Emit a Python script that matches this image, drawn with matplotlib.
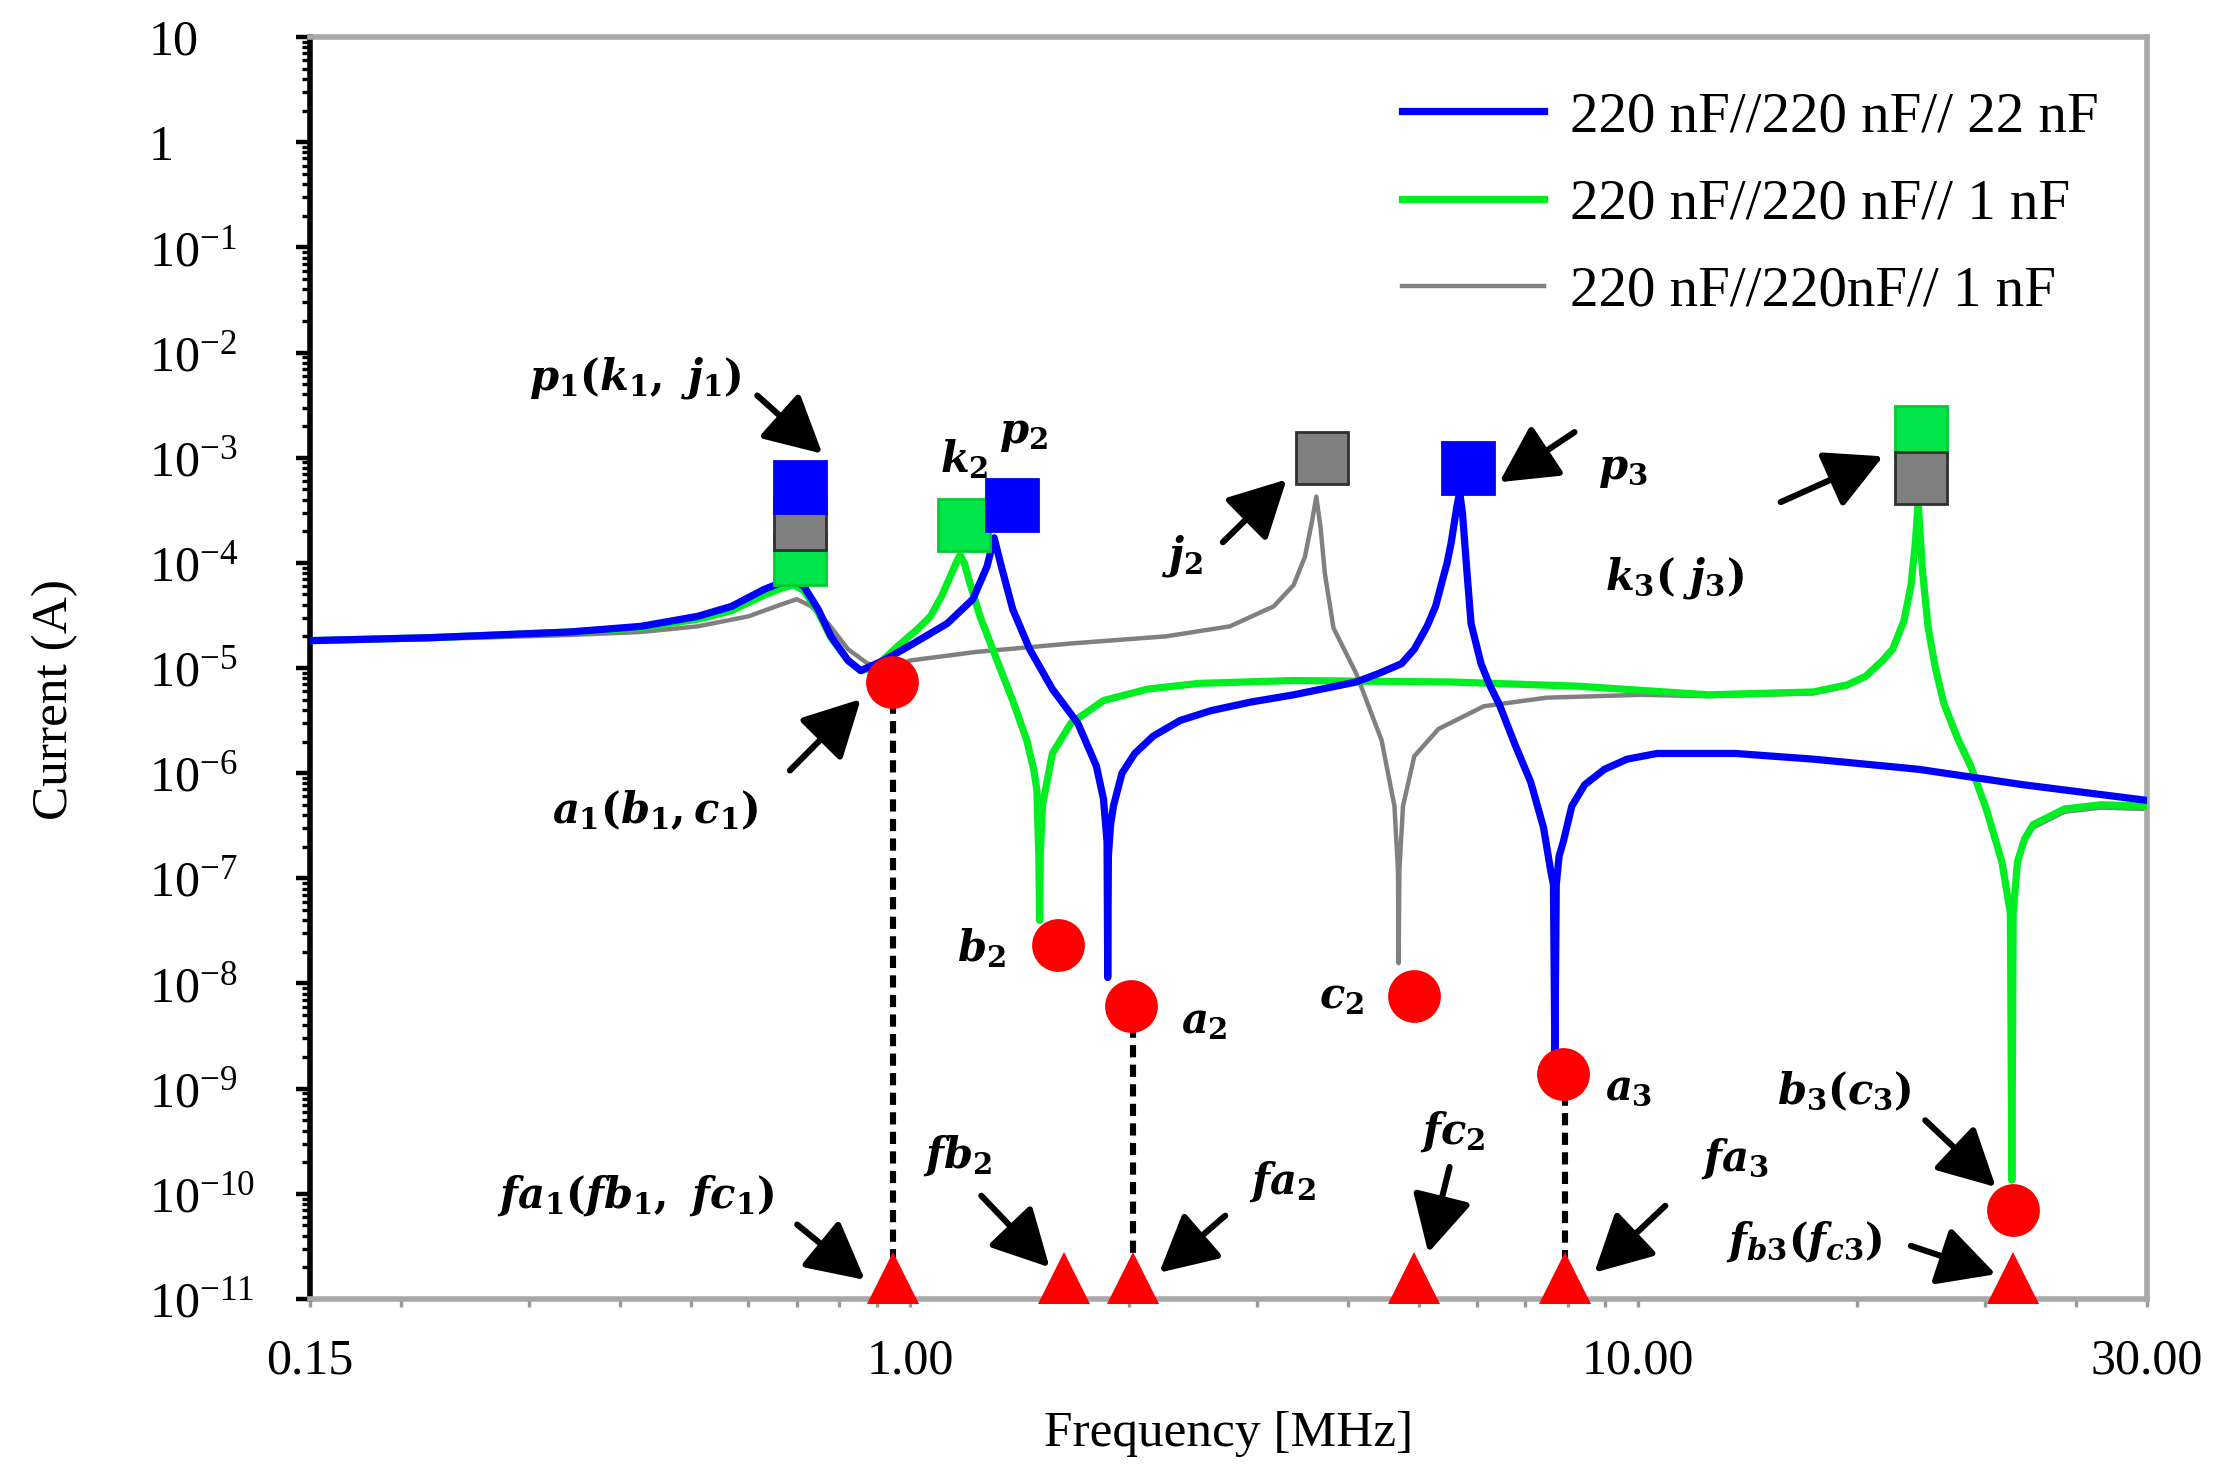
import matplotlib
matplotlib.use("Agg")
import matplotlib.pyplot as plt
from matplotlib.ticker import LogLocator, NullFormatter

plt.rcParams['font.family'] = ['Liberation Serif', 'DejaVu Serif']
plt.rcParams['mathtext.fontset'] = 'custom'
plt.rcParams['mathtext.it'] = 'DejaVu Serif:italic:bold'
plt.rcParams['mathtext.rm'] = 'DejaVu Serif:bold'
plt.rcParams['mathtext.bf'] = 'DejaVu Serif:bold'

# --- data: (frequency MHz, current A) ---
series_labels = ["220 nF//220 nF// 22 nF", "220 nF//220 nF// 1 nF", "220 nF//220nF// 1 nF"]

blue_points = [
    (0.150, 1.82e-5), (0.218, 1.94e-5), (0.341, 2.20e-5), (0.427, 2.49e-5), (0.511, 3.10e-5),
    (0.569, 3.86e-5), (0.631, 5.61e-5), (0.669, 6.56e-5), (0.693, 6.98e-5), (0.715, 5.97e-5),
    (0.748, 3.62e-5), (0.779, 2.00e-5), (0.822, 1.18e-5), (0.856, 9.45e-6), (0.920, 1.18e-5),
    (1.011, 1.71e-5), (1.125, 2.65e-5), (1.220, 4.51e-5), (1.276, 9.25e-5), (1.305, 1.73e-4),
    (1.335, 9.25e-5), (1.384, 3.62e-5), (1.460, 1.51e-5), (1.569, 6.30e-6), (1.701, 2.97e-6),
    (1.803, 1.17e-6), (1.844, 5.68e-7), (1.865, 2.23e-7), (1.869, 1.14e-8), (1.873, 1.63e-7),
    (1.886, 3.24e-7), (1.903, 4.86e-7), (1.955, 9.97e-7), (2.036, 1.54e-6), (2.158, 2.25e-6),
    (2.350, 3.17e-6), (2.594, 3.94e-6), (2.941, 4.75e-6), (3.365, 5.56e-6), (4.101, 7.36e-6),
    (4.405, 8.88e-6), (4.733, 1.10e-5), (4.928, 1.51e-5), (5.131, 2.49e-5), (5.271, 3.86e-5),
    (5.391, 6.98e-5), (5.464, 9.84e-5), (5.539, 1.57e-4), (5.638, 3.44e-4), (5.689, 4.69e-4),
    (5.740, 2.94e-4), (5.819, 8.42e-5), (5.897, 2.65e-5), (6.086, 1.10e-5), (6.252, 6.92e-6),
    (6.451, 4.47e-6), (6.778, 1.86e-6), (7.120, 8.26e-7), (7.416, 3.04e-7), (7.584, 1.19e-7),
    (7.652, 8.72e-8), (7.687, 2.05e-9), (7.721, 8.72e-8), (7.791, 1.63e-7), (7.895, 2.23e-7),
    (8.110, 4.86e-7), (8.446, 7.76e-7), (8.995, 1.09e-6), (9.663, 1.36e-6), (10.62, 1.54e-6),
    (13.59, 1.54e-6), (17.40, 1.36e-6), (24.25, 1.09e-6), (33.81, 7.76e-7), (50.0, 5.51e-7),
]

green_points = [
    (0.150, 1.82e-5), (0.218, 1.94e-5), (0.341, 2.20e-5), (0.427, 2.41e-5), (0.511, 2.91e-5),
    (0.569, 3.51e-5), (0.631, 4.95e-5), (0.669, 5.79e-5), (0.693, 6.16e-5), (0.715, 5.44e-5),
    (0.748, 3.40e-5), (0.779, 1.94e-5), (0.822, 1.18e-5), (0.856, 9.45e-6), (0.895, 1.01e-5),
    (0.962, 1.61e-5), (1.024, 2.34e-5), (1.067, 3.10e-5), (1.105, 4.80e-5), (1.136, 7.43e-5),
    (1.156, 9.84e-5), (1.172, 1.19e-4), (1.188, 9.84e-5), (1.209, 6.36e-5), (1.248, 3.10e-5),
    (1.317, 1.18e-5), (1.384, 4.90e-6), (1.447, 2.05e-6), (1.480, 1.06e-6), (1.494, 6.85e-7),
    (1.503, 1.63e-7), (1.507, 3.99e-8), (1.510, 1.63e-7), (1.520, 4.86e-7), (1.569, 1.54e-6),
    (1.663, 2.97e-6), (1.844, 4.90e-6), (2.120, 6.30e-6), (2.492, 7.14e-6), (3.365, 7.60e-6),
    (5.539, 7.36e-6), (8.295, 6.71e-6), (12.49, 5.56e-6), (17.40, 5.92e-6), (19.38, 6.92e-6),
    (20.54, 8.34e-6), (21.67, 1.18e-5), (22.37, 1.51e-5), (23.19, 2.82e-5), (23.71, 6.16e-5),
    (24.04, 1.57e-4), (24.25, 3.77e-4), (24.58, 8.42e-5), (25.03, 2.41e-5), (25.60, 1.01e-5),
    (26.30, 4.61e-6), (27.50, 2.11e-6), (28.64, 1.17e-6), (30.08, 4.56e-7), (31.60, 1.44e-7),
    (32.46, 4.67e-8), (32.61, 1.35e-10), (32.75, 4.67e-8), (33.20, 1.44e-7), (33.95, 2.37e-7),
    (34.88, 3.24e-7), (38.51, 4.56e-7), (43.26, 5.01e-7), (50.0, 4.86e-7),
]

gray_points = [
    (0.150, 1.82e-5), (0.218, 1.88e-5), (0.341, 2.06e-5), (0.427, 2.20e-5), (0.511, 2.49e-5),
    (0.600, 3.10e-5), (0.663, 3.98e-5), (0.699, 4.51e-5), (0.732, 3.86e-5), (0.772, 2.65e-5),
    (0.822, 1.51e-5), (0.875, 1.10e-5), (0.936, 1.01e-5), (1.002, 1.18e-5), (1.231, 1.42e-5),
    (1.663, 1.71e-5), (2.247, 2.00e-5), (2.750, 2.49e-5), (3.160, 3.86e-5), (3.365, 6.16e-5),
    (3.488, 1.15e-4), (3.567, 2.51e-4), (3.615, 4.27e-4), (3.664, 2.15e-4), (3.714, 7.91e-5),
    (3.816, 2.41e-5), (4.101, 8.88e-6), (4.444, 2.05e-6), (4.628, 4.86e-7), (4.680, 1.19e-7),
    (4.690, 1.56e-8), (4.701, 1.19e-7), (4.755, 4.86e-7), (4.928, 1.45e-6), (5.319, 2.63e-6),
    (6.141, 4.33e-6), (7.482, 5.22e-6), (10.11, 5.56e-6), (12.49, 5.39e-6), (17.40, 5.74e-6),
    (19.38, 6.71e-6), (20.54, 8.09e-6), (21.67, 1.14e-5), (22.37, 1.46e-5), (23.19, 2.65e-5),
    (23.71, 5.61e-5), (24.04, 1.35e-4), (24.25, 2.94e-4), (24.58, 7.91e-5), (25.03, 2.27e-5),
    (25.60, 9.45e-6), (26.30, 4.33e-6), (27.50, 1.98e-6), (28.64, 1.09e-6), (30.08, 4.29e-7),
    (31.60, 1.35e-7), (32.46, 4.4e-8), (32.61, 1.35e-10), (32.75, 4.4e-8), (33.20, 1.35e-7),
    (33.95, 2.23e-7), (34.88, 3.04e-7), (38.51, 4.29e-7), (43.26, 4.71e-7), (50.0, 4.56e-7),
]

# resonance (peak) markers per series
peak_f_blue = [0.706, 1.383, 5.844]
peak_i_blue = [5.32e-4, 3.55e-4, 7.98e-4]
peak_f_green = [0.706, 1.188, 24.48]
peak_i_green = [1.08e-4, 2.29e-4, 1.75e-3]
peak_f_gray = [0.706, 3.681, 24.48]
peak_i_gray = [2.36e-4, 9.93e-4, 6.41e-4]

# anti-resonance (notch) points a1, b2, a2, c2, a3, b3 and their frequencies
notch_f = [0.945, 1.597, 2.009, 4.925, 7.890, 32.74]
notch_i = [7.36e-6, 2.34e-8, 6.12e-9, 7.62e-9, 1.37e-9, 7.03e-11]
notch_freq_marks = [0.949, 1.626, 2.026, 4.925, 7.925, 32.74]
floor_level = 1.6e-11
drop_lines = [0, 2, 4]   # a1, a2, a3 get a dashed drop line

x_ticks = [0.15, 1.0, 10.0, 50.0]
x_tick_labels = ["0.15", "1.00", "10.00", "30.00"]
y_ticks = [10.0 ** k for k in range(1, -12, -1)]
y_tick_labels = ["10", "1"] + [r"$\mathregular{10^{-%d}}$" % k for k in range(1, 12)]

# text, text position, arrow tail, arrow head (data coords)
notes = [
    (r"$p_1(k_1,\ j_1)$", (0.420, 5.7e-3), (0.617, 3.9e-3), (0.758, 1.09e-3)),
    (r"$k_2$", (1.188, 9.6e-4), None, None),
    (r"$p_2$", (1.432, 1.64e-3), None, None),
    (r"$j_2$", (2.37, 1.15e-4), (2.69, 1.57e-4), (3.29, 6.2e-4)),
    (r"$p_3$", (9.53, 7.5e-4), (8.18, 1.75e-3), (6.45, 5.85e-4)),
    (r"$k_3(\ j_3)$", (11.2, 7.2e-5), (15.7, 3.78e-4), (21.7, 1.03e-3)),
    (r"$a_1(b_1,c_1)$", (0.447, 4.4e-7), (0.684, 1.06e-6), (0.856, 5.06e-6)),
    (r"$b_2$", (1.253, 2.14e-8), None, None),
    (r"$a_2$", (2.54, 4.2e-9), None, None),
    (r"$c_2$", (3.92, 7.2e-9), None, None),
    (r"$a_3$", (9.70, 1.0e-9), None, None),
    (r"$b_3(c_3)$", (19.2, 9.4e-10), (24.8, 5.0e-10), (31.0, 1.16e-10)),
    (r"$fa_1(fb_1,\ fc_1)$", (0.420, 9.6e-11), (0.700, 5.1e-11), (0.867, 1.52e-11)),
    (r"$fb_2$", (1.161, 2.3e-10), (1.253, 9.6e-11), (1.555, 2.0e-11)),
    (r"$fa_2$", (3.25, 1.31e-10), (2.71, 6.2e-11), (2.20, 1.78e-11)),
    (r"$fc_2$", (5.57, 3.9e-10), (5.51, 1.8e-10), (5.15, 2.75e-11)),
    (r"$fa_3$", (13.6, 2.16e-10), (10.9, 7.7e-11), (8.71, 1.78e-11)),
    (r"$f_{b3}(f_{c3})$", (16.9, 3.5e-11), (23.7, 3.2e-11), (31.0, 1.72e-11)),
]

fig = plt.figure(figsize=(11.13, 7.405), dpi=200)
ax = fig.add_axes([0.1393, 0.1229, 0.8252, 0.8521])
ax.set_xscale('log')
ax.set_yscale('log')
ax.set_xlim(0.15, 50)
ax.set_ylim(1e-11, 10)

blue, green, gray = '#0000ff', '#00ee22', '#808080'
fb, ib = zip(*blue_points)
fg, ig = zip(*green_points)
fy, iy = zip(*gray_points)
l_gray, = ax.plot(fy, iy, color=gray, lw=1.6, zorder=2)
l_green, = ax.plot(fg, ig, color=green, lw=2.6, zorder=3)
l_blue, = ax.plot(fb, ib, color=blue, lw=2.6, zorder=4)

# dashed drop lines from notch to its frequency marker
for k in drop_lines:
    ax.plot([notch_freq_marks[k]] * 2, [notch_i[k], floor_level], color='k', lw=2.2,
            ls=(0, (2, 1.2)), zorder=5)

ax.plot(peak_f_green, peak_i_green, 's', ms=18.5, color='#00e64a', mec='#00cc33', mew=1, zorder=6)
ax.plot(peak_f_gray, peak_i_gray, 's', ms=18.5, color='#808080', mec='#303030', mew=1, zorder=6)
ax.plot(peak_f_blue, peak_i_blue, 's', ms=18.5, color=blue, mec=blue, mew=1, zorder=6)
ax.plot(notch_f, notch_i, 'o', ms=19, color='#ff0000', mew=0, zorder=7)
ax.plot(notch_freq_marks, [floor_level] * len(notch_freq_marks), '^', ms=18.5, color='#ff0000',
        mew=0, zorder=7, clip_on=False)

for txt, pos, tail, head in notes:
    ax.text(pos[0], pos[1], txt, fontsize=15, ha='center', va='center', zorder=8)
    if tail is not None:
        ax.annotate("", xy=head, xytext=tail, zorder=8,
                    arrowprops=dict(arrowstyle='-|>,head_length=0.8,head_width=0.42',
                                    mutation_scale=22, lw=2.2, color='k',
                                    shrinkA=0, shrinkB=0))

# axes styling
for side in ['top', 'right', 'bottom']:
    ax.spines[side].set_color('#a8a8a8')
    ax.spines[side].set_linewidth(2)
ax.spines['left'].set_color('k')
ax.spines['left'].set_linewidth(2)

ax.set_xticks(x_ticks)
ax.set_xticklabels(x_tick_labels)
ax.xaxis.set_minor_locator(LogLocator(base=10, subs=range(2, 10), numticks=50))
ax.xaxis.set_minor_formatter(NullFormatter())
ax.set_yticks(y_ticks)
ax.set_yticklabels(y_tick_labels)
ax.yaxis.set_minor_locator(LogLocator(base=10, subs=range(2, 10), numticks=50))
ax.yaxis.set_minor_formatter(NullFormatter())

ax.tick_params(axis='y', which='major', direction='out', length=5, width=1.6, color='k',
               labelsize=18, pad=53)
ax.tick_params(axis='y', which='minor', direction='out', length=3, width=1.2, color='k')
ax.tick_params(axis='x', which='both', direction='out', length=3, width=1.2, color='#999999',
               labelsize=18, pad=11)
for t in ax.get_yticklabels():
    t.set_horizontalalignment('left')

ax.set_xlabel("Frequency [MHz]", fontsize=18.5)
ax.set_ylabel("Current (A)", fontsize=18.5)
ax.xaxis.label.set_va('center')
ax.yaxis.label.set_va('center')
ax.xaxis.set_label_coords(0.5, -0.107)
ax.yaxis.set_label_coords(-0.139, 0.475)

ax.legend(handles=[l_blue, l_green, l_gray], labels=series_labels, loc='upper right',
          bbox_to_anchor=(0.986, 0.975), borderaxespad=0, frameon=False, fontsize=20.5,
          handlelength=2.5, handletextpad=0.45, labelspacing=0.62)

fig.savefig('out.png', dpi=200, facecolor='white')
